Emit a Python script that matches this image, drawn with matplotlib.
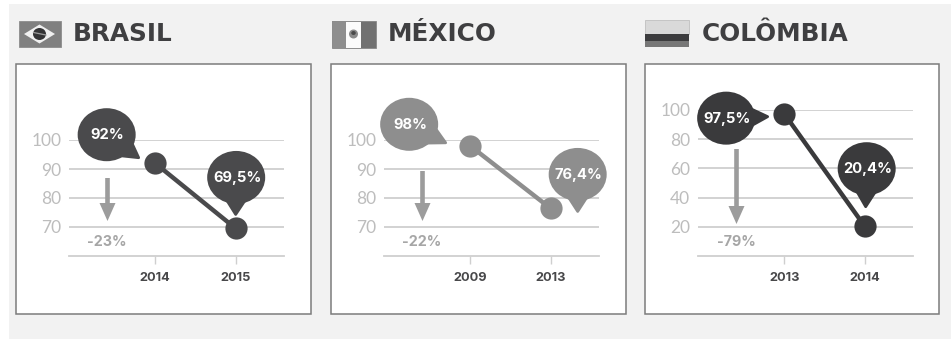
import matplotlib
matplotlib.use("Agg")
import matplotlib.pyplot as plt
from matplotlib.patches import Ellipse, Polygon, Rectangle

plt.rcParams["font.family"] = ["Inter", "DejaVu Sans"]

W, H = 951, 339

COUNTRIES = ["BRASIL", "MÉXICO", "COLÔMBIA"]
YEARS = [["2014", "2015"], ["2009", "2013"], ["2013", "2014"]]
VALUES = [[92, 69.5], [98, 76.4], [97.5, 20.4]]
VALUE_LABELS = [["92%", "69,5%"], ["98%", "76,4%"], ["97,5%", "20,4%"]]
CHANGES = ["-23%", "-22%", "-79%"]
Y_TICKS = [[70, 80, 90, 100], [70, 80, 90, 100], [20, 40, 60, 80, 100]]
Y_LIMS = [(60, 100), (60, 100), (0, 100)]

COLORS = ["#4a4a4c", "#8e8e8e", "#3a3a3c"]
BOXES = [(15.5, 310.5), (331, 625.5), (645, 939)]
PLOT_X = [(69, 284), (384, 599), (698, 913)]
PLOT_TOP = [140, 140, 110]
PLOT_BOTTOM = 256
TITLE_X = [73, 388, 702]

# bubble centre and tail tip, as pixel offsets from the point they describe
BUBBLES = [
    [((-48.5, -28.5), (-16.5, -5.5)), ((0.5, -51), (0, -14))],
    [((-61, -21.5), (-24.5, -3)), ((27, -34), (27, 3))],
    [((-58, 4.5), (-16.5, 3)), ((2, -57.5), (1, -19.5))],
]
ARROWS = [(107.5, 178, 221), (422.5, 171, 221), (736.5, 149, 224)]

fig = plt.figure(figsize=(W / 100, H / 100), dpi=100, facecolor="white")


def px_axes(zorder):
    ax = fig.add_axes([0, 0, 1, 1], zorder=zorder)
    ax.set_xlim(0, W)
    ax.set_ylim(H, 0)
    ax.axis("off")
    return ax


back = px_axes(0)
over = px_axes(5)


def rect(ax, x0, y0, x1, y1, **kw):
    ax.add_patch(Rectangle((x0, y0), x1 - x0, y1 - y0, **kw))


def draw_flags(ax):
    # Brazil
    rect(ax, 18.5, 21, 60.5, 46.5, fc="#808080", ec="#8c8c8c", lw=0.6)
    ax.add_patch(Polygon([(24, 34), (39.5, 24.5), (55, 34), (39.5, 43.5)], fc="#f0f0f0", ec="none"))
    ax.add_patch(Ellipse((39.5, 34), 13, 12, fc="#333335", ec="none"))
    ax.plot([33.5, 46], [32.5, 35], color="#9a9a9a", lw=0.9)
    # Mexico
    rect(ax, 346, 20.5, 361, 47.5, fc="#fbfbfb", ec="none")
    rect(ax, 331.5, 20.5, 346, 47.5, fc="#8e8e8e", ec="none")
    rect(ax, 361, 20.5, 376, 47.5, fc="#717171", ec="none")
    rect(ax, 331.5, 20.5, 376, 47.5, fc="none", ec="#8c8c8c", lw=0.7)
    ax.add_patch(Ellipse((353.5, 34), 9, 9, fc="#8a8a8a", ec="none"))
    ax.add_patch(Ellipse((353.5, 33), 4.5, 4, fc="#4a4a4a", ec="none"))
    # Colombia
    rect(ax, 645, 20, 689, 34, fc="#d9d9d9", ec="#b8b8b8", lw=0.5)
    rect(ax, 645, 34, 689, 41, fc="#3c3c3e", ec="none")
    rect(ax, 645, 41, 689, 47, fc="#777777", ec="none")


def draw_bubble(ax, cx, cy, tipx, tipy, color, label):
    # tail base sits inside the ellipse, on the side facing the tip
    dx, dy = tipx - cx, tipy - cy
    norm = (dx ** 2 + dy ** 2) ** 0.5
    ux, uy = dx / norm, dy / norm
    bx, by = cx + ux * 20, cy + uy * 20
    base1 = (bx - uy * 11, by + ux * 11)
    base2 = (bx + uy * 11, by - ux * 11)
    ax.add_patch(Ellipse((cx, cy), 58, 53, fc=color, ec="none"))
    ax.add_patch(Polygon([base1, (tipx, tipy), base2], fc=color, ec=color, lw=2, joinstyle="round"))
    ax.text(cx + 1, cy + 0.5, label, color="white", fontsize=10.6, fontweight="bold", ha="center", va="center")


# grey page band behind the three panels
rect(back, 9, 4, W, H, fc="#f2f2f2", ec="none")
draw_flags(back)

for i, country in enumerate(COUNTRIES):
    color = COLORS[i]
    rect(back, BOXES[i][0], 64, BOXES[i][1], 314, fc="white", ec="#7c7c7c", lw=1.1)
    back.text(TITLE_X[i], 34, country, color="#3f3f41", fontsize=17.8, fontweight="bold",
              family="DejaVu Sans", ha="left", va="center")

    x0, x1 = PLOT_X[i]
    top = PLOT_TOP[i]
    ax = fig.add_axes([x0 / W, 1 - PLOT_BOTTOM / H, (x1 - x0) / W, (PLOT_BOTTOM - top) / H], zorder=2)
    ax.patch.set_alpha(0)
    ax.plot(YEARS[i], VALUES[i], color=color, lw=3.2, marker="o", ms=16, mec="none", clip_on=False, zorder=3)
    ax.set_xlim(-1.07, 1.6)
    ax.set_ylim(*Y_LIMS[i])
    ax.set_yticks(Y_TICKS[i])
    ax.grid(True, axis="y", color="#cfcfcf", lw=1.3)
    ax.set_axisbelow(True)
    for side in ["top", "left", "right"]:
        ax.spines[side].set_visible(False)
    ax.spines["bottom"].set_color("#cfcfcf")
    ax.spines["bottom"].set_linewidth(1.3)
    ax.tick_params(axis="y", length=0, pad=5.5, labelsize=12.5, labelcolor="#bdbdbd", labelfontfamily="Lato")
    ax.tick_params(axis="x", length=6, width=1, color="#cfcfcf", pad=5.5, labelsize=9.2, labelcolor="#48484a")
    for t in ax.get_xticklabels():
        t.set_fontweight("bold")

    to_px = ax.transData + over.transData.inverted()
    for j, value in enumerate(VALUES[i]):
        px, py = to_px.transform((j, value))
        centre, tip = BUBBLES[i][j]
        draw_bubble(over, px + centre[0], py + centre[1], px + tip[0], py + tip[1], color, VALUE_LABELS[i][j])

    # drop arrow and percentage change
    ax_x, y_start, y_tip = ARROWS[i]
    over.add_patch(Polygon([
        (ax_x - 2.3, y_start), (ax_x + 2.3, y_start), (ax_x + 2.3, y_tip - 18),
        (ax_x + 8, y_tip - 18), (ax_x, y_tip), (ax_x - 8, y_tip - 18), (ax_x - 2.3, y_tip - 18),
    ], fc="#9c9c9c", ec="none"))
    over.text(ax_x - 0.5, 242, CHANGES[i], color="#a6a6a6", fontsize=10.3, fontweight="bold", ha="center", va="center")

fig.savefig("out.png", dpi=100)
plt.close(fig)
